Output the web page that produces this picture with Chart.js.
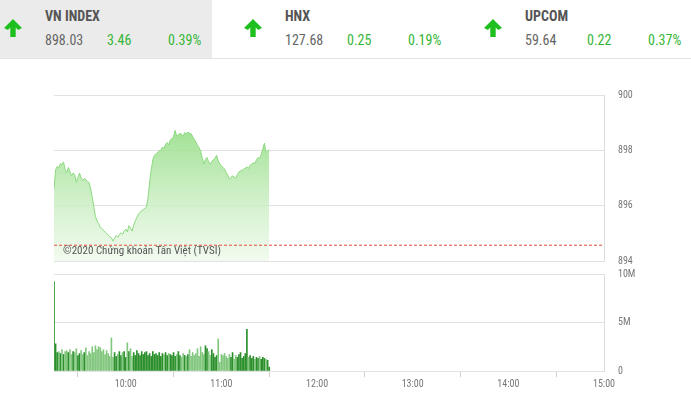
<!DOCTYPE html>
<html>
<head>
<meta charset="utf-8">
<script src="https://cdn.jsdelivr.net/npm/chart.js@4.4.0/dist/chart.umd.min.js"></script>
<style>
  body { margin: 0; width: 691px; height: 395px; background: #fff; overflow: hidden; position: relative;
         font-family: "Roboto Condensed", "DejaVu Sans Condensed", "Liberation Sans Narrow", Roboto, sans-serif; }
  #header { position: absolute; left: 0; top: 0; width: 691px; height: 58px; border-bottom: 1px solid #e3e3e3; }
  #bgVN { position: absolute; left: 0; top: 0; width: 212px; height: 58px; background: #ebebeb; }
  .seta { position: absolute; top: 19px; width: 18px; height: 18px; }
  .nome { position: absolute; top: 8px; font-size: 14px; font-weight: bold; color: #555; }
  .val { position: absolute; top: 32px; font-size: 14px; color: #666; }
  .verde { color: #35b535; }
  canvas { position: absolute; left: 0; }
</style>
</head>
<body>
<div id="header"><div id="bgVN"></div></div>
<canvas id="graficoGia" width="691" height="221" style="top:60px"></canvas>
<canvas id="graficoVol" width="691" height="142" style="top:254px"></canvas>
<script>
// Cabecalho ----------------------------------------------------------------
const chiSo = ['VN INDEX', 'HNX', 'UPCOM'];
const diem = ['898.03', '127.68', '59.64'];
const thayDoi = ['3.46', '0.25', '0.22'];
const phanTram = ['0.39%', '0.19%', '0.37%'];

// Dados do grafico (1 ponto por minuto, comecando 9:15) ------------------------
const gioBatDau = 555; // 9:15 em minutos
const gioKetThuc = 900; // 15:00
const thamChieu = 894.57; // fechamento anterior (linha vermelha)
const giaVNIndex = [
  896.59, 897.30, 897.42, 897.36, 897.52, 897.48, 897.58, 897.30, 897.20, 897.38,
  897.22, 897.08, 897.18, 897.12, 896.84, 897.02, 897.18, 897.00, 896.90, 896.98,
  896.94, 896.86, 896.84, 896.60, 896.30, 895.95, 895.60, 895.45, 895.35, 895.22,
  895.18, 895.10, 895.05, 895.00, 894.94, 894.88, 894.84, 894.72, 894.82, 894.92,
  894.86, 894.95, 895.02, 894.96, 895.08, 895.15, 895.05, 895.28, 895.18, 895.08,
  895.30, 895.45, 895.58, 895.70, 895.76, 895.82, 895.86, 895.90, 895.95, 896.30,
  896.85, 897.30, 897.65, 897.82, 897.88, 897.92, 897.98, 898.00, 898.12, 898.06,
  898.22, 898.28, 898.20, 898.38, 898.42, 898.50, 898.72, 898.50, 898.56, 898.62,
  898.58, 898.52, 898.64, 898.60, 898.66, 898.62, 898.60, 898.50, 898.40, 898.30,
  898.18, 898.10, 897.98, 897.70, 897.50, 897.68, 897.74, 897.58, 897.50, 897.60,
  897.66, 897.72, 897.82, 897.62, 897.50, 897.45, 897.38, 897.32, 897.20, 897.10,
  896.96, 897.02, 897.08, 897.04, 897.00, 897.12, 897.22, 897.26, 897.28, 897.32,
  897.36, 897.40, 897.35, 897.46, 897.50, 897.56, 897.52, 897.66, 897.74, 897.70,
  897.86, 898.05, 898.26, 897.92, 897.98, 898.03
];
// volume em milhoes
const khoiLuong = [
  9.2, 2.8, 1.9, 2.0, 1.8, 2.2, 1.7, 2.0, 2.1, 1.9,
  2.2, 1.7, 2.0, 1.9, 2.3, 1.6, 1.8, 2.1, 1.7, 1.9,
  2.4, 1.6, 2.0, 1.8, 2.5, 1.9, 2.6, 2.2, 2.5, 2.4,
  2.0, 2.2, 1.7, 2.1, 1.8, 1.5, 3.4, 1.4, 1.9, 1.5,
  1.7, 2.0, 1.6, 1.9, 2.0, 1.4, 2.9, 2.0, 2.3, 1.5,
  1.9, 1.6, 2.1, 1.8, 1.6, 2.0, 1.7, 1.9, 2.0, 1.6,
  1.8, 1.5, 2.0, 1.7, 1.8, 1.6, 1.9, 1.5, 1.8, 1.7,
  1.9, 1.6, 1.8, 1.7, 1.6, 1.9, 1.5, 1.7, 2.0, 1.6,
  1.4, 1.8, 1.6, 1.5, 1.7, 2.2, 1.5, 1.9, 1.6, 1.8,
  2.3, 1.5, 2.5, 1.9, 1.7, 2.6, 2.3, 2.0, 1.6, 2.2,
  1.8, 1.4, 1.6, 3.3, 0.9, 1.7, 1.6, 1.8, 1.5, 1.3,
  1.7, 1.4, 1.9, 1.2, 1.6, 1.4, 1.7, 1.9, 1.3, 1.5,
  1.8, 4.3, 1.4, 1.6, 1.3, 1.5, 1.2, 1.4, 1.3, 1.5,
  1.2, 1.4, 1.3, 1.2, 1.1, 0.4
];
const nhanGio = [600, 660, 720, 780, 840, 900];
const nhanGia = [894, 896, 898, 900];
const nhanKhoiLuong = [0, 5, 10];

// Monta o cabecalho -------------------------------------------------------
const posX = [0, 240, 480];
const header = document.getElementById('header');
chiSo.forEach((nome, i) => {
  const x = posX[i];
  header.insertAdjacentHTML('beforeend',
    `<svg class="seta" style="left:${x + 4}px" viewBox="0 0 16 16"><path d="M8 0 L16 8 L12.5 9.8 L10.4 7.6 L10.4 16 L5.6 16 L5.6 7.6 L3.5 9.8 L0 8 Z" fill="#1fbf1f"/></svg>` +
    `<span class="nome" style="left:${x + 45}px">${nome}</span>` +
    `<span class="val" style="left:${x + 45}px">${diem[i]}</span>` +
    `<span class="val verde" style="left:${x + 107}px">${thayDoi[i]}</span>` +
    `<span class="val verde" style="left:${x + 168}px">${phanTram[i]}</span>`);
});

const fonte = '"Roboto Condensed", "DejaVu Sans Condensed", "Liberation Sans Narrow", Roboto, sans-serif';
const fmtGio = v => Math.floor(v / 60) + ':' + String(v % 60).padStart(2, '0');

// Grafico de preco --------------------------------------------------------
const marcaDagua = {
  id: 'marcaDagua',
  afterDraw(chart) {
    const ctx = chart.ctx;
    ctx.save();
    ctx.font = '11px ' + fonte;
    ctx.fillStyle = '#555';
    ctx.textBaseline = 'middle';
    ctx.fillText('©2020 Chứng khoán Tân Việt (TVSI)', 63, 191);
    ctx.restore();
  }
};

new Chart(document.getElementById('graficoGia'), {
  type: 'line',
  data: {
    datasets: [{
      data: [{ x: gioBatDau, y: thamChieu }, { x: gioKetThuc, y: thamChieu }],
      borderColor: '#e5483c',
      borderWidth: 1,
      borderDash: [3, 2],
      pointRadius: 0,
      fill: false,
      order: 0
    }, {
      data: giaVNIndex.map((v, i) => ({ x: gioBatDau + i, y: v })),
      borderColor: '#8bd97e',
      borderWidth: 1,
      pointRadius: 0,
      tension: 0,
      fill: 'start',
      backgroundColor: ctx => {
        const a = ctx.chart.chartArea;
        if (!a) return 'rgba(140,217,126,0.5)';
        const g = ctx.chart.ctx.createLinearGradient(0, a.top, 0, a.bottom);
        g.addColorStop(0, 'rgba(126,214,108,0.92)');
        g.addColorStop(1, 'rgba(236,249,233,0.7)');
        return g;
      },
      order: 1
    }]
  },
  options: {
    responsive: false,
    animation: false,
    layout: { padding: { left: 54, top: 35, bottom: 10, right: 0 } },
    plugins: { legend: { display: false }, tooltip: { enabled: false } },
    scales: {
      x: { type: 'linear', min: gioBatDau, max: gioKetThuc, display: false },
      y: {
        position: 'right', min: 894, max: 900,
        afterFit: s => { s.width = 87; },
        afterBuildTicks: s => { s.ticks = nhanGia.map(v => ({ value: v })); },
        grid: { color: '#e2e2e2', drawTicks: false },
        border: { display: true, color: '#dcdcdc' },
        ticks: { padding: 14, color: '#777', font: { size: 10, family: fonte } }
      }
    }
  },
  plugins: [marcaDagua]
});

// Grafico de volume -------------------------------------------------------
const corBarra = khoiLuong.map((v, i) => (i === 0 || giaVNIndex[i] >= giaVNIndex[i - 1]) ? '#2b8f2b' : '#82c77e');

new Chart(document.getElementById('graficoVol'), {
  type: 'bar',
  data: {
    datasets: [{
      data: khoiLuong.map((v, i) => ({ x: gioBatDau + i, y: v })),
      backgroundColor: corBarra,
      barThickness: 1
    }]
  },
  options: {
    responsive: false,
    animation: false,
    layout: { padding: { left: 54, top: 1, bottom: 0, right: 0 } },
    plugins: { legend: { display: false }, tooltip: { enabled: false } },
    scales: {
      x: {
        type: 'linear', min: gioBatDau, max: gioKetThuc, offset: false,
        afterFit: s => { s.height = 25; },
        afterBuildTicks: s => { s.ticks = nhanGio.map(v => ({ value: v })); },
        grid: { drawOnChartArea: false, drawTicks: true, tickLength: 6, color: '#cfcfcf' },
        border: { display: false },
        ticks: { padding: 1, color: '#777', maxRotation: 0, font: { size: 10, family: fonte }, callback: v => fmtGio(v) }
      },
      y: {
        position: 'right', min: 0, max: 10,
        afterFit: s => { s.width = 87; },
        afterBuildTicks: s => { s.ticks = nhanKhoiLuong.map(v => ({ value: v })); },
        grid: { color: '#e2e2e2', drawTicks: false },
        border: { display: true, color: '#dcdcdc' },
        ticks: { padding: 14, color: '#777', font: { size: 10, family: fonte }, callback: v => v === 0 ? '0' : v + 'M' }
      }
    }
  }
});
</script>
</body>
</html>
